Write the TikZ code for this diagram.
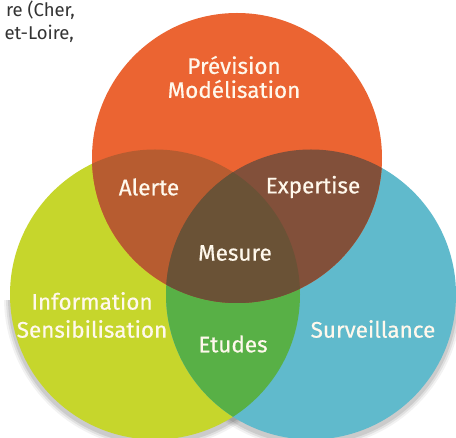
\documentclass[tikz,border=0pt]{standalone}
\usepackage{fontspec}
\setmainfont{Fira Sans}
\newfontfamily\lblfont{Fira Sans}[FakeBold=0.5]
\definecolor{corange}{HTML}{EB6432}
\definecolor{cgreen}{HTML}{C6D62C}
\definecolor{cblue}{HTML}{60BACC}
\definecolor{calerte}{HTML}{B75C30}
\definecolor{cexpert}{HTML}{82503A}
\definecolor{cmesure}{HTML}{6A5236}
\definecolor{cetudes}{HTML}{58B046}
\definecolor{ctext}{HTML}{FFF8EC}
\definecolor{cbody}{HTML}{333333}
\begin{document}
\begin{tikzpicture}[x=1pt,y=-1pt,
  lbl/.style={text=ctext,font=\lblfont\fontsize{22.5}{28}\selectfont,inner sep=0pt,align=center},
  ttl/.style={text=ctext,font=\lblfont\fontsize{22.5}{24}\selectfont,inner sep=0pt,align=center},
  body/.style={text=cbody,font=\fontsize{18.5}{22}\selectfont,inner sep=0pt,anchor=base east}]
\useasboundingbox (0,0) rectangle (456,438);
\clip (0,0) rectangle (456,438);
\fill[white] (0,0) rectangle (456,438);
\coordinate (O) at (237,158);
\coordinate (G) at (155,294.5);
\coordinate (B) at (311,294.5);
% soft shadows
\foreach \d/\op in {6/0.05,4/0.07,2/0.09}{
  \fill[black,opacity=\op] ([yshift=-3pt]G) circle (145+\d);
  \fill[black,opacity=\op] ([yshift=-3pt]B) circle (145+\d);
}
\fill[white] (0,0) rectangle (456,300);
\fill[cgreen] (G) circle (145);
\fill[cblue] (B) circle (145);
\fill[corange] (O) circle (145);
\begin{scope}
  \clip (G) circle (145);
  \fill[cetudes] (B) circle (145);
\end{scope}
\begin{scope}
  \clip (O) circle (145);
  \fill[calerte] (G) circle (145);
  \fill[cexpert] (B) circle (145);
\end{scope}
\begin{scope}
  \clip (O) circle (145);
  \clip (G) circle (145);
  \fill[cmesure] (B) circle (145);
\end{scope}
\node[body] (t1) at (75,17) {re (Cher,};
\node[body] (t2) at (74,40) {et-Loire,};
\node[ttl] (prev) at (234,77) {Prévision\\Modélisation};
\node[lbl] (alerte) at (149,187) {Alerte};
\node[lbl] (expert) at (313,187) {Expertise};
\node[lbl] (mesure) at (235,253) {Mesure};
\node[lbl] (info) at (92,315) {Information\\Sensibilisation};
\node[lbl] (etudes) at (233,344) {Etudes};
\node[lbl] (surv) at (373,329) {Surveillance};
\end{tikzpicture}
\end{document}
